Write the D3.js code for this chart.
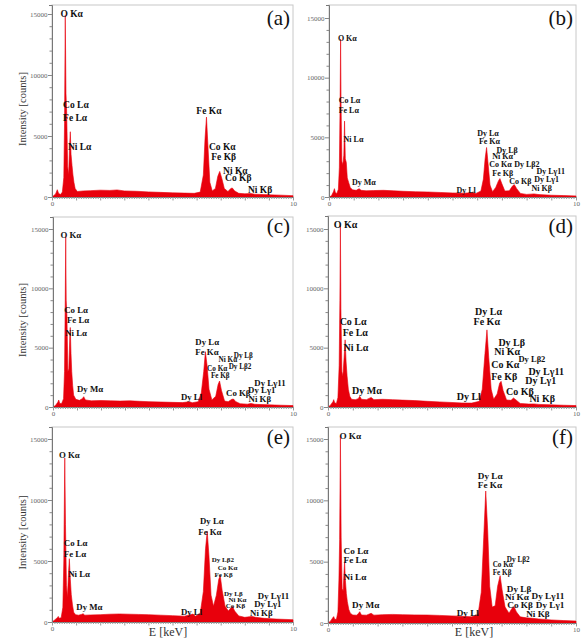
<!DOCTYPE html>
<html>
<head>
<meta charset="utf-8">
<script src="https://cdn.jsdelivr.net/npm/d3@7"></script>
<style>
  body { margin: 0; background: #fff; }
  svg text { font-family: "Liberation Serif", "Times New Roman", "DejaVu Serif", serif; }
  .peak { font-weight: bold; fill: #111; }
  .tick-label { fill: #666; font-size: 7px; }
</style>
</head>
<body>
<script>
// spectra: [energy keV, counts]
const spectrumA = [[0,0],[0.05,80],[0.15,250],[0.22,600],[0.27,300],[0.35,200],[0.43,400],[0.49,1600],[0.52,6000],[0.55,14900],[0.58,8500],[0.61,6900],[0.65,2500],[0.69,1800],[0.73,4200],[0.76,5350],[0.79,3500],[0.83,2600],[0.87,1800],[0.91,1200],[0.96,700],[1.05,450],[1.3,500],[1.6,520],[2.0,560],[2.4,540],[2.7,580],[3.0,500],[3.5,470],[4.0,420],[4.5,380],[5.0,340],[5.5,320],[5.9,300],[6.15,400],[6.28,1800],[6.35,4800],[6.41,6550],[6.47,4200],[6.55,1200],[6.65,500],[6.78,700],[6.88,1700],[6.96,2100],[7.05,1500],[7.15,700],[7.3,450],[7.42,700],[7.48,740],[7.58,500],[7.75,300],[8.0,260],[8.25,280],[8.4,230],[9.0,180],[9.5,150],[10,110]];
const spectrumB = [[0,0],[0.1,100],[0.18,450],[0.22,700],[0.26,350],[0.32,300],[0.38,650],[0.42,2500],[0.45,8000],[0.47,13230],[0.49,7500],[0.52,3000],[0.56,2700],[0.6,3500],[0.63,6360],[0.66,3200],[0.7,2900],[0.74,1600],[0.8,1200],[0.86,800],[0.95,600],[1.1,560],[1.22,700],[1.3,560],[1.5,520],[1.8,540],[2.2,560],[2.6,520],[3.0,480],[3.5,440],[4.0,420],[4.5,380],[5.0,340],[5.5,320],[5.8,380],[5.95,300],[6.15,500],[6.25,1500],[6.32,3200],[6.38,4150],[6.44,2800],[6.52,1000],[6.62,450],[6.75,800],[6.86,1350],[6.92,1540],[7.0,1100],[7.12,500],[7.3,520],[7.42,900],[7.5,1040],[7.6,700],[7.75,300],[8.0,220],[8.3,260],[8.5,200],[9.0,150],[9.5,120],[10,90]];
const spectrumC = [[0,0],[0.1,120],[0.2,400],[0.24,590],[0.28,300],[0.36,300],[0.44,700],[0.48,3000],[0.51,9000],[0.53,14350],[0.55,9000],[0.58,7750],[0.62,3000],[0.66,3200],[0.7,6000],[0.72,6700],[0.75,4500],[0.78,3000],[0.82,1800],[0.86,1000],[0.95,650],[1.1,560],[1.22,700],[1.28,870],[1.35,600],[1.6,520],[2.0,550],[2.4,520],[2.8,500],[3.2,520],[3.6,480],[4.0,450],[4.5,420],[5.0,390],[5.4,370],[5.69,450],[5.8,360],[6.05,450],[6.18,1200],[6.28,3000],[6.35,4660],[6.42,3500],[6.5,1500],[6.62,600],[6.78,900],[6.88,1900],[6.94,2190],[7.02,1400],[7.15,500],[7.3,450],[7.45,650],[7.52,670],[7.62,450],[7.8,280],[8.1,240],[8.25,300],[8.4,230],[9.0,180],[9.5,150],[10,120]];
const spectrumD = [[0,0],[0.1,150],[0.2,450],[0.23,620],[0.27,350],[0.34,300],[0.4,800],[0.45,3500],[0.48,9000],[0.5,15300],[0.52,8300],[0.56,3000],[0.6,2600],[0.65,4200],[0.69,5660],[0.73,3800],[0.77,2600],[0.82,1500],[0.88,900],[0.95,650],[1.1,620],[1.22,700],[1.28,900],[1.35,650],[1.55,620],[1.74,810],[1.85,620],[2.2,650],[2.6,620],[3.0,580],[3.5,540],[4.0,480],[4.5,430],[5.0,380],[5.4,340],[5.8,330],[6.1,480],[6.22,1500],[6.33,4500],[6.41,6500],[6.48,4200],[6.58,1500],[6.68,650],[6.82,1100],[6.92,2000],[6.98,2160],[7.06,1400],[7.2,600],[7.38,560],[7.48,760],[7.58,600],[7.75,300],[8.1,250],[8.3,260],[8.5,220],[9.0,180],[9.5,150],[10,120]];
const spectrumE = [[0,0],[0.1,150],[0.22,350],[0.26,460],[0.3,300],[0.38,350],[0.45,1200],[0.49,5000],[0.53,13440],[0.56,8000],[0.6,3000],[0.64,2000],[0.68,3800],[0.72,5190],[0.76,3500],[0.8,2240],[0.85,1400],[0.9,800],[0.98,600],[1.1,560],[1.22,620],[1.29,680],[1.36,560],[1.6,580],[2.0,600],[2.4,640],[2.8,660],[3.2,640],[3.6,620],[4.0,600],[4.5,560],[5.0,520],[5.5,480],[5.85,650],[5.95,480],[6.15,700],[6.28,2500],[6.37,6000],[6.44,7430],[6.51,5500],[6.6,2200],[6.7,1300],[6.82,2200],[6.92,3500],[6.98,3820],[7.06,2600],[7.18,1300],[7.32,900],[7.42,1150],[7.49,1280],[7.58,900],[7.75,500],[8.0,380],[8.2,440],[8.3,460],[8.45,380],[8.8,300],[9.3,240],[10,190]];
const spectrumF = [[0,0],[0.1,150],[0.2,450],[0.23,520],[0.27,300],[0.34,300],[0.4,900],[0.44,3500],[0.47,6800],[0.5,15270],[0.53,7000],[0.57,2800],[0.61,2600],[0.65,4300],[0.67,5000],[0.7,3500],[0.74,2400],[0.78,1740],[0.84,1100],[0.9,800],[1.0,650],[1.15,640],[1.22,750],[1.28,920],[1.35,650],[1.55,640],[1.74,790],[1.85,640],[2.2,680],[2.6,700],[3.0,680],[3.5,660],[4.0,650],[4.5,620],[5.0,580],[5.3,560],[5.6,520],[5.8,500],[6.05,700],[6.18,2500],[6.28,7000],[6.36,10760],[6.44,7500],[6.52,3000],[6.62,1300],[6.74,1400],[6.84,3000],[6.94,3860],[7.02,2700],[7.14,1300],[7.3,800],[7.42,1200],[7.5,1330],[7.6,900],[7.75,500],[8.0,420],[8.25,380],[8.5,330],[9.0,250],[9.5,200],[10,160]];

// peak annotations: [text, keV, counts] (text start / baseline)
const labelsA = [["O Kα",0.35,14730],["Co Lα",0.46,7280],["Fe Lα",0.46,6270],["Ni Lα",0.66,3870],["Fe Kα",5.99,6820],["Co Kα",6.51,3870],["Fe Kβ",6.61,3050],["Ni Kα",7.10,1910],["Co Kβ",7.18,1280],["Ni Kβ",8.13,330]];
const labelsB = [["O Kα",0.36,13100],["Co Lα",0.39,7850],["Fe Lα",0.39,7070],["Ni Lα",0.59,4630],["Dy Mα",0.93,1040],["Dy Ll",5.16,360],["Dy Lα",6.0,5130],["Fe Kα",6.07,4400],["Dy Lβ",6.78,3650],["Ni Kα",6.61,3170],["Co Kα",6.49,2520],["Dy Lβ2",7.5,2520],["Fe Kβ",6.61,1770],["Co Kβ",7.3,1120],["Dy Lγ11",8.4,1900],["Dy Lγ1",8.31,1230],["Ni Kβ",8.2,480]];
const labelsC = [["O Kα",0.31,14210],["Co Lα",0.47,7890],["Fe Lα",0.58,7050],["Ni Lα",0.51,6010],["Dy Mα",1.0,1240],["Dy Ll",5.33,590],["Dy Lα",5.93,5220],["Fe Kα",5.93,4380],["Dy Lβ",7.53,4160],["Ni Kα",6.9,3820],["Dy Lβ2",7.32,3200],["Co Kα",6.42,3030],["Fe Kβ",6.58,2480],["Dy Lγ11",8.39,1800],["Co Kβ",7.21,955],["Dy Lγ1",8.13,1150],["Ni Kβ",8.15,450]];
const labelsD = [["O Kα",0.23,15060],["Co Lα",0.47,6870],["Fe Lα",0.59,6000],["Ni Lα",0.63,4740],["Dy Mα",0.97,1120],["Dy Ll",5.19,620],["Dy Lα",5.93,7770],["Fe Kα",5.87,6870],["Dy Lβ",6.87,5100],["Ni Kα",6.7,4400],["Dy Lβ2",7.68,3790],["Co Kα",6.58,3280],["Dy Lγ11",8.08,2700],["Dy Lγ1",7.95,1930],["Fe Kβ",6.58,2300],["Co Kβ",7.18,1040],["Ni Kβ",8.12,420]];
const labelsE = [["O Kα",0.29,13440],["Co Lα",0.49,6200],["Fe Lα",0.49,5330],["Ni Lα",0.67,3690],["Dy Mα",1.01,1010],["Dy Ll",5.35,600],["Dy Lα",6.14,8060],["Fe Kα",6.07,7160],["Dy Lβ2",6.63,4890],["Co Kα",6.88,4230],["Fe Kβ",6.74,3690],["Dy Lβ",7.14,2150],["Ni Kα",7.32,1650],["Co Kβ",7.21,1150],["Dy Lγ11",8.54,1910],["Dy Lγ1",8.39,1200],["Ni Kβ",8.22,460]];
const labelsF = [["O Kα",0.46,15000],["Co Lα",0.63,5600],["Fe Lα",0.63,4860],["Ni Lα",0.63,3500],["Dy Mα",0.97,1200],["Dy Ll",5.19,570],["Dy Lα",6.04,11740],["Fe Kα",6.04,10980],["Dy Lβ2",7.21,5000],["Co Kα",6.64,4590],["Fe Kβ",6.64,3910],["Dy Lβ",7.21,2550],["Ni Kα",7.14,1870],["Co Kβ",7.23,1200],["Dy Lγ11",8.21,1930],["Dy Lγ1",8.38,1200],["Ni Kβ",7.99,460]];

const yTickValues = [0, 5000, 10000, 15000];
const xTickLabels = [0, 10];
const panelNames = ["(a)", "(b)", "(c)", "(d)", "(e)", "(f)"];

// pixel layout of each panel: left, right, top of box, zero line, y of 15000 tick
// small: indices of crowded labels printed in a smaller size
const panels = [
    {name: panelNames[0], data: spectrumA, labels: labelsA, left: 52, right: 293, top: 5, zero: 197, y15k: 14, fs: 9.5, small: [], tagY: 25, yTitle: true},
    {name: panelNames[1], data: spectrumB, labels: labelsB, left: 329, right: 576, top: 5, zero: 197, y15k: 18, fs: 8, small: [], tagY: 25},
    {name: panelNames[2], data: spectrumC, labels: labelsC, left: 53, right: 293, top: 217, zero: 407, y15k: 229, fs: 8.8, small: [8, 9, 10, 11, 12], sfs: 7.2, tagY: 233, yTitle: true},
    {name: panelNames[3], data: spectrumD, labels: labelsD, left: 328, right: 576, top: 216, zero: 407, y15k: 229, fs: 10, small: [10], sfs: 8.5, tagY: 233},
    {name: panelNames[4], data: spectrumE, labels: labelsE, left: 52, right: 293, top: 427, zero: 622, y15k: 439, fs: 8.8, small: [8, 9, 10, 11, 12, 13], sfs: 7, tagY: 444, yTitle: true, xTitle: 168},
    {name: panelNames[5], data: spectrumF, labels: labelsF, left: 328, right: 576, top: 427, zero: 623, y15k: 439, fs: 9.2, small: [8, 9, 10], sfs: 7.2, tagY: 444, xTitle: 474}
];

const svg = d3.select('body').append('svg')
    .attr('width', 582)
    .attr('height', 639);

const serif = '"Liberation Serif", "Times New Roman", serif';

function drawPanel(p) {
    const yMax = 15000 * (p.zero - p.top) / (p.zero - p.y15k);
    const x = d3.scaleLinear().domain([0, 10]).range([p.left, p.right]);
    const y = d3.scaleLinear().domain([0, yMax]).range([p.zero, p.top]);
    const g = svg.append('g');

    // frame
    g.append('rect')
        .attr('x', p.left).attr('y', p.top)
        .attr('width', p.right - p.left).attr('height', p.zero - p.top)
        .attr('fill', 'none').attr('stroke', '#c8c8c8').attr('stroke-width', 1);

    // spectrum
    const area = d3.area()
        .x(d => x(d[0]))
        .y0(y(0))
        .y1(d => y(d[1]));
    g.append('path')
        .datum(p.data)
        .attr('d', area)
        .attr('fill', '#e8000c')
        .attr('stroke', '#e8000c')
        .attr('stroke-width', 0.6)
        .attr('stroke-linejoin', 'round');

    // y axis
    const yAxis = d3.axisLeft(y)
        .tickValues(d3.range(0, 16000, 1000))
        .tickSize(3)
        .tickFormat(d => yTickValues.includes(d) ? d : '');
    const ya = g.append('g')
        .attr('transform', 'translate(' + p.left + ',0)')
        .call(yAxis)
        .attr('font-family', serif);
    ya.select('.domain').attr('stroke', '#777');
    ya.selectAll('.tick line').attr('stroke', '#888')
        .attr('x2', d => yTickValues.includes(d) ? -4 : -2.5);
    ya.selectAll('.tick text').attr('class', 'tick-label').attr('x', -4.5);

    // x axis
    const isMajor = d => Math.abs(d - Math.round(d)) < 1e-6;
    const xAxis = d3.axisBottom(x)
        .tickValues(d3.range(0, 10.01, 0.1))
        .tickSize(2)
        .tickFormat(d => isMajor(d) && xTickLabels.includes(Math.round(d)) ? Math.round(d) : '');
    const xa = g.append('g')
        .attr('transform', 'translate(0,' + p.zero + ')')
        .call(xAxis)
        .attr('font-family', serif);
    xa.select('.domain').attr('stroke', '#777');
    xa.selectAll('.tick line').attr('stroke', '#999')
        .attr('y2', d => isMajor(d) ? 3.5 : 2);
    xa.selectAll('.tick text').attr('class', 'tick-label').attr('y', 4);

    // panel tag
    g.append('text')
        .attr('x', p.right - 3)
        .attr('y', p.tagY)
        .attr('text-anchor', 'end')
        .attr('font-family', serif)
        .attr('font-size', 21)
        .attr('fill', '#111')
        .text(p.name);

    // peak annotations
    g.selectAll('text.peak')
        .data(p.labels)
        .join('text')
        .attr('class', 'peak')
        .attr('font-family', serif)
        .attr('x', d => x(d[1]))
        .attr('y', d => y(d[2]))
        .attr('font-size', (d, i) => p.small.includes(i) ? p.sfs : p.fs)
        .text(d => d[0]);

    if (p.yTitle) {
        g.append('text')
            .attr('transform', 'translate(26,' + ((p.top + p.zero) / 2 + 8) + ') rotate(-90)')
            .attr('text-anchor', 'middle')
            .attr('font-family', serif)
            .attr('font-size', 10.5)
            .attr('fill', '#333')
            .text('Intensity [counts]');
    }
    if (p.xTitle) {
        g.append('text')
            .attr('x', p.xTitle)
            .attr('y', 636)
            .attr('text-anchor', 'middle')
            .attr('font-family', serif)
            .attr('font-size', 12)
            .attr('fill', '#333')
            .text('E [keV]');
    }
}

panels.forEach(drawPanel);
</script>
</body>
</html>
